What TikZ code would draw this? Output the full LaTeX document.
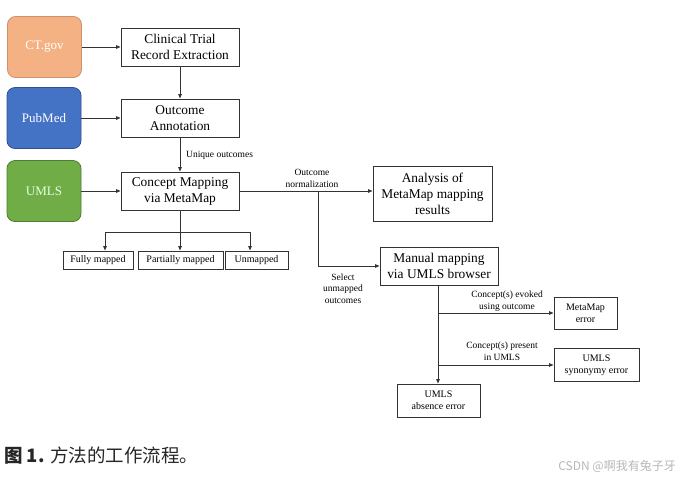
\documentclass[tikz,border=0pt]{standalone}
\usepackage{fontspec}
\setmainfont{Liberation Serif}
\newfontfamily\cjk{Noto Sans CJK SC}
\usetikzlibrary{arrows.meta,calc}
\definecolor{ln}{HTML}{333333}
\definecolor{orfill}{HTML}{F4B183}
\definecolor{ordraw}{HTML}{D09070}
\definecolor{blfill}{HTML}{4472C4}
\definecolor{bldraw}{HTML}{2F528F}
\definecolor{grfill}{HTML}{70AD47}
\definecolor{grdraw}{HTML}{507E32}
\tikzset{
  src/.style={rounded corners=8pt, line width=0.8pt, minimum width=74pt, minimum height=61pt, inner sep=0pt, text=white, font=\fontsize{13}{15}\selectfont},
  bigbox/.style={draw=ln, line width=1pt, fill=white, align=center, inner sep=0pt, font=\fontsize{13.4}{16}\selectfont},
  smallbox/.style={draw=ln, line width=1pt, fill=white, align=center, inner sep=0pt, font=\fontsize{10}{12}\selectfont},
  lbl/.style={align=center, inner sep=0pt, font=\fontsize{9.5}{11.5}\selectfont},
  arr/.style={draw=ln, line width=0.9pt, -{Triangle[length=4.5pt,width=3.6pt]}},
  seg/.style={draw=ln, line width=0.9pt}
}
\begin{document}
\begin{tikzpicture}[x=1pt,y=-1pt]
\useasboundingbox (0,0) rectangle (684,480);
\fill[white] (0,0) rectangle (684,480);
% sources
\node[src, fill=orfill, draw=ordraw] (ct) at (44.5,47) {CT.gov};
\node[src, fill=blfill, draw=bldraw] (pm) at (44,118) {PubMed};
\node[src, fill=grfill, draw=grdraw, text={green!10!white}] (um) at (44,191) {UMLS};
% main column
\node[bigbox, minimum width=118pt, minimum height=38pt] (cl) at (180,47) {Clinical Trial\\Record Extraction};
\node[bigbox, minimum width=118pt, minimum height=38pt] (oa) at (180,118) {Outcome\\Annotation};
\node[bigbox, minimum width=118pt, minimum height=38pt] (cm) at (180,191) {Concept Mapping\\via MetaMap};
% outcome boxes
\node[smallbox, minimum width=70pt, minimum height=18pt] (fm) at (98,260) {Fully mapped};
\node[smallbox, minimum width=85pt, minimum height=18pt] (pmap) at (180.5,260) {Partially mapped};
\node[smallbox, minimum width=63pt, minimum height=18pt] (un) at (256.5,260) {Unmapped};
% right part
\node[bigbox, minimum width=119pt, minimum height=55pt] (an) at (432.5,193.5) {Analysis of\\MetaMap mapping\\results};
\node[bigbox, minimum width=118pt, minimum height=38pt] (mm) at (439,266) {Manual mapping\\via UMLS browser};
\node[smallbox, minimum width=63pt, minimum height=32pt] (me) at (585.5,313) {MetaMap\\error};
\node[smallbox, minimum width=85pt, minimum height=33pt] (se) at (596.5,365) {UMLS\\synonymy error};
\node[smallbox, minimum width=83pt, minimum height=33pt] (ae) at (438.5,400.5) {UMLS\\absence error};
% labels
\node[lbl, anchor=west] (lu) at (186,155) {Unique outcomes};
\node[lbl] (lon) at (312,178.5) {Outcome\\normalization};
\node[lbl] (lsel) at (343,288.5) {Select\\unmapped\\outcomes};
\node[lbl] (lev) at (507,301) {Concept(s) evoked\\using outcome};
\node[lbl] (lpr) at (502,351) {Concept(s) present\\in UMLS};
% arrows
\draw[arr] (ct.east) -- (cl.west |- ct.east);
\draw[arr] (pm.east) -- (oa.west |- pm.east);
\draw[arr] (um.east) -- (cm.west |- um.east);
\draw[arr] (cl.south) -- (oa.north);
\draw[arr] (oa.south) -- (cm.north);
% split to mapping results
\coordinate (j1) at ($(cm.south)+(0,22)$);
\coordinate (jl) at (105,232);
\coordinate (jr) at (250,232);
\draw[seg] (cm.south) -- (j1);
\draw[seg] (jl) -- (jr);
\draw[arr] (jl) -- (jl |- fm.north);
\draw[arr] (j1) -- (j1 |- pmap.north);
\draw[arr] (jr) -- (jr |- un.north);
% normalization
\draw[arr] (cm.east) -- (an.west |- cm.east);
\coordinate (b1) at (318,191);
\draw[arr] (b1) |- (mm.west);
% manual mapping outcomes
\coordinate (m1) at (438,285);
\draw[arr] (m1) -- (m1 |- ae.north);
\draw[arr] (m1 |- me.west) -- (me.west);
\draw[arr] (m1 |- se.west) -- (se.west);
% caption
\node[anchor=west, inner sep=0pt, text={black!85}, font={\cjk\fontsize{18.5}{21}\selectfont}] (cap) at (4,456) {\textbf{图 1.} 方法的工作流程。};
\node[anchor=east, inner sep=0pt, text={black!28}, font={\cjk\fontsize{12}{14}\selectfont}] (wm) at (676,466) {CSDN @啊我有兔子牙};
\end{tikzpicture}
\end{document}
